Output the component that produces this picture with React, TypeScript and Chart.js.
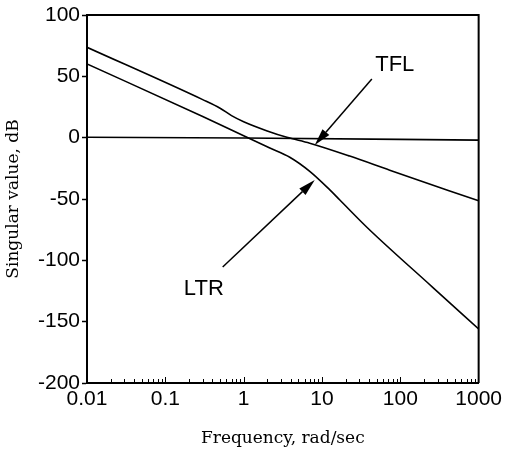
import React, { useEffect, useRef } from "react";
import { Chart, registerables } from "chart.js";

Chart.register(...registerables);

// TFL singular value curve
const tflFreq = [0.01, 0.3, 0.5, 0.7, 1.0, 2.0, 3.56, 6.98, 22.6, 73.3, 1000];
const tflDb = [73.7, 31.0, 24.0, 18.0, 13.0, 5.5, 0.3, -4.5, -15.0, -26.5, -51.5];

// LTR singular value curve
const ltrFreq = [0.01, 0.3, 1.0, 2.16, 3.88, 6.98, 12.6, 16.9, 37.4, 259, 1000];
const ltrDb = [60.1, 17.3, 1.5, -8.5, -16.0, -27.5, -42.6, -50.8, -73.0, -122, -156];

// 0 dB reference curve
const refFreq = [0.01, 1, 1000];
const refDb = [0.3, -0.3, -2];

const xTickValues = [0.01, 0.1, 1, 10, 100, 1000];
const yTickValues = [-200, -150, -100, -50, 0, 50, 100];

// annotation labels and arrows
const labelText = ["TFL", "LTR"];
const labelFreq = [84.9, 0.31];
const labelDb = [59.2, -123.3];
const arrowTailFreq = [43.3, 0.54];
const arrowTailDb = [47.8, -105.4];
const arrowTipFreq = [8.09, 8.09];
const arrowTipDb = [-6.0, -34.5];

const SANS = '"Liberation Sans", Arial, Helvetica, sans-serif';
const SERIF = '"DejaVu Serif", "Liberation Serif", serif';

const decorPlugin = {
  id: "decor",
  afterDatasetsDraw(chart: any) {
    const { ctx, chartArea: a, scales } = chart;
    const x = scales.x;
    const y = scales.y;
    ctx.save();
    ctx.strokeStyle = "#000";
    ctx.fillStyle = "#000";
    // frame top and right
    ctx.lineWidth = 2;
    ctx.beginPath();
    ctx.moveTo(a.left - 1, a.top);
    ctx.lineTo(a.right, a.top);
    ctx.lineTo(a.right, a.bottom);
    ctx.stroke();
    // inward log ticks on the x axis
    ctx.lineWidth = 1;
    for (let d = -2; d < 3; d++) {
      for (let m = 1; m < 10; m++) {
        const v = m * Math.pow(10, d);
        const px = Math.round(x.getPixelForValue(v)) + 0.5;
        const len = m === 1 ? 6 : 4;
        ctx.beginPath();
        ctx.moveTo(px, a.bottom);
        ctx.lineTo(px, a.bottom - len);
        ctx.stroke();
      }
    }
    // arrows
    for (let i = 0; i < arrowTipFreq.length; i++) {
      const x0 = x.getPixelForValue(arrowTailFreq[i]);
      const y0 = y.getPixelForValue(arrowTailDb[i]);
      const x1 = x.getPixelForValue(arrowTipFreq[i]);
      const y1 = y.getPixelForValue(arrowTipDb[i]);
      const ang = Math.atan2(y1 - y0, x1 - x0);
      const hl = 17;
      const hw = 4.5;
      const bx = x1 - hl * Math.cos(ang);
      const by = y1 - hl * Math.sin(ang);
      ctx.lineWidth = 1.5;
      ctx.beginPath();
      ctx.moveTo(x0, y0);
      ctx.lineTo(bx, by);
      ctx.stroke();
      ctx.beginPath();
      ctx.moveTo(x1, y1);
      ctx.lineTo(bx + hw * Math.sin(ang), by - hw * Math.cos(ang));
      ctx.lineTo(bx - hw * Math.sin(ang), by + hw * Math.cos(ang));
      ctx.closePath();
      ctx.fill();
    }
    // labels
    ctx.font = `22px ${SANS}`;
    ctx.textAlign = "center";
    ctx.textBaseline = "middle";
    for (let i = 0; i < labelText.length; i++) {
      ctx.fillText(labelText[i], x.getPixelForValue(labelFreq[i]), y.getPixelForValue(labelDb[i]));
    }
    ctx.restore();
  },
};

function toPoints(xs: number[], ys: number[]) {
  return xs.map((v, i) => ({ x: v, y: ys[i] }));
}

export default function App() {
  const ref = useRef<HTMLCanvasElement | null>(null);
  useEffect(() => {
    document.body.style.margin = "0";
    const canvas = ref.current;
    if (!canvas) return;
    const lineStyle = {
      borderColor: "#000",
      borderWidth: 1.6,
      pointRadius: 0,
      fill: false,
      cubicInterpolationMode: "monotone" as const,
    };
    const chart = new Chart(canvas, {
      type: "line",
      data: {
        datasets: [
          { label: "TFL", data: toPoints(tflFreq, tflDb), ...lineStyle },
          { label: "LTR", data: toPoints(ltrFreq, ltrDb), ...lineStyle },
          { label: "0 dB", data: toPoints(refFreq, refDb), ...lineStyle },
        ],
      },
      options: {
        animation: false,
        responsive: false,
        maintainAspectRatio: false,
        events: [],
        layout: { padding: { top: 15, right: 27, left: 0, bottom: 0 } },
        plugins: { legend: { display: false }, tooltip: { enabled: false } },
        scales: {
          x: {
            type: "logarithmic",
            min: 0.01,
            max: 1000,
            afterBuildTicks: (s: any) => {
              s.ticks = xTickValues.map((v) => ({ value: v }));
            },
            afterFit: (s: any) => {
              s.height = 70;
            },
            ticks: {
              autoSkip: false,
              maxRotation: 0,
              padding: 4,
              color: "#000",
              font: { family: SANS, size: 21 },
              callback: (v: any) => String(v),
            },
            grid: { drawOnChartArea: false, drawTicks: false },
            border: { display: true, color: "#000", width: 2 },
            title: {
              display: true,
              text: "Frequency, rad/sec",
              color: "#000",
              font: { family: SERIF, size: 17 },
              padding: { top: 0, bottom: 4 },
            },
          },
          y: {
            type: "linear",
            min: -200,
            max: 100,
            afterBuildTicks: (s: any) => {
              s.ticks = yTickValues.map((v) => ({ value: v }));
            },
            afterFit: (s: any) => {
              s.width = 87;
            },
            ticks: {
              padding: 2,
              color: "#000",
              font: { family: SANS, size: 21 },
            },
            grid: {
              drawOnChartArea: false,
              drawTicks: true,
              tickLength: 5,
              tickColor: "#000",
              tickWidth: 1.5,
            },
            border: { display: true, color: "#000", width: 2 },
            title: {
              display: true,
              text: "Singular value, dB",
              color: "#000",
              font: { family: SERIF, size: 17 },
              padding: { top: 3, bottom: 0 },
            },
          },
        },
      },
      plugins: [decorPlugin],
    } as any);
    return () => chart.destroy();
  }, []);
  return (
    <div style={{ width: 506, height: 453 }}>
      <canvas ref={ref} width={506} height={453} />
    </div>
  );
}
